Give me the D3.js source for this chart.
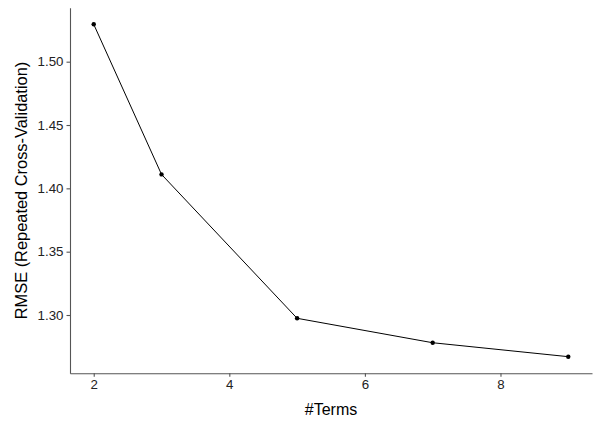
<!DOCTYPE html>
<html><head><meta charset="utf-8">
<script src="https://cdn.jsdelivr.net/npm/d3@7"></script>
<style>body{margin:0;background:#fff}svg{display:block}</style>
</head><body>
<svg id="c" width="600" height="429"></svg>
<script>
const terms = [2, 3, 5, 7, 9];
const rmse = [1.5295, 1.411, 1.2974, 1.2781, 1.2671];
const xTicks = [2, 4, 6, 8];
const yTicks = [1.30, 1.35, 1.40, 1.45, 1.50];
const xTitle = "#Terms";
const yTitle = "RMSE (Repeated Cross-Validation)";

const svg = d3.select("#c");
const L = 70, R = 592, T = 7.7, B = 373.3;
const xmin = d3.min(terms), xmax = d3.max(terms), xr = xmax - xmin;
const ymin = d3.min(rmse), ymax = d3.max(rmse), yr = ymax - ymin;
const x = d3.scaleLinear().domain([xmin - 0.05*xr, xmax + 0.05*xr]).range([L, R]);
const y = d3.scaleLinear().domain([ymin - 0.05*yr, ymax + 0.05*yr]).range([B, T]);

const font = "'Liberation Sans', Arial, sans-serif";

const xa = svg.append("g").attr("transform", `translate(0,${B})`)
  .call(d3.axisBottom(x).tickValues(xTicks).tickFormat(d3.format("d")).tickSizeInner(3.5).tickSizeOuter(0).tickPadding(3));
const ya = svg.append("g").attr("transform", `translate(${L},0)`)
  .call(d3.axisLeft(y).tickValues(yTicks).tickFormat(d3.format(".2f")).tickSizeInner(3.5).tickSizeOuter(0).tickPadding(3));
[xa, ya].forEach(a => {
  a.select(".domain").attr("stroke", "#555").attr("stroke-width", 1.1);
  a.selectAll(".tick line").attr("stroke", "#555").attr("stroke-width", 1.1);
  a.selectAll(".tick text").attr("fill", "#222").style("font-family", font).style("font-size", "13.3px");
});

const data = terms.map((t, i) => ({t, v: rmse[i]}));
svg.append("path").datum(data)
  .attr("fill", "none").attr("stroke", "#000").attr("stroke-width", 1)
  .attr("d", d3.line().x(d => x(d.t)).y(d => y(d.v)));
svg.selectAll("circle.p").data(data).enter().append("circle")
  .attr("cx", d => x(d.t)).attr("cy", d => y(d.v)).attr("r", 2.2).attr("fill", "#000");

svg.append("text").attr("x", (L + R) / 2).attr("y", 415)
  .attr("text-anchor", "middle").style("font-family", font).style("font-size", "16px")
  .attr("fill", "#000").text(xTitle);
svg.append("text").attr("transform", `translate(26.5,${(T + B) / 2}) rotate(-90)`)
  .attr("text-anchor", "middle").style("font-family", font).style("font-size", "16.4px")
  .attr("fill", "#000").text(yTitle);
</script>
</body></html>
